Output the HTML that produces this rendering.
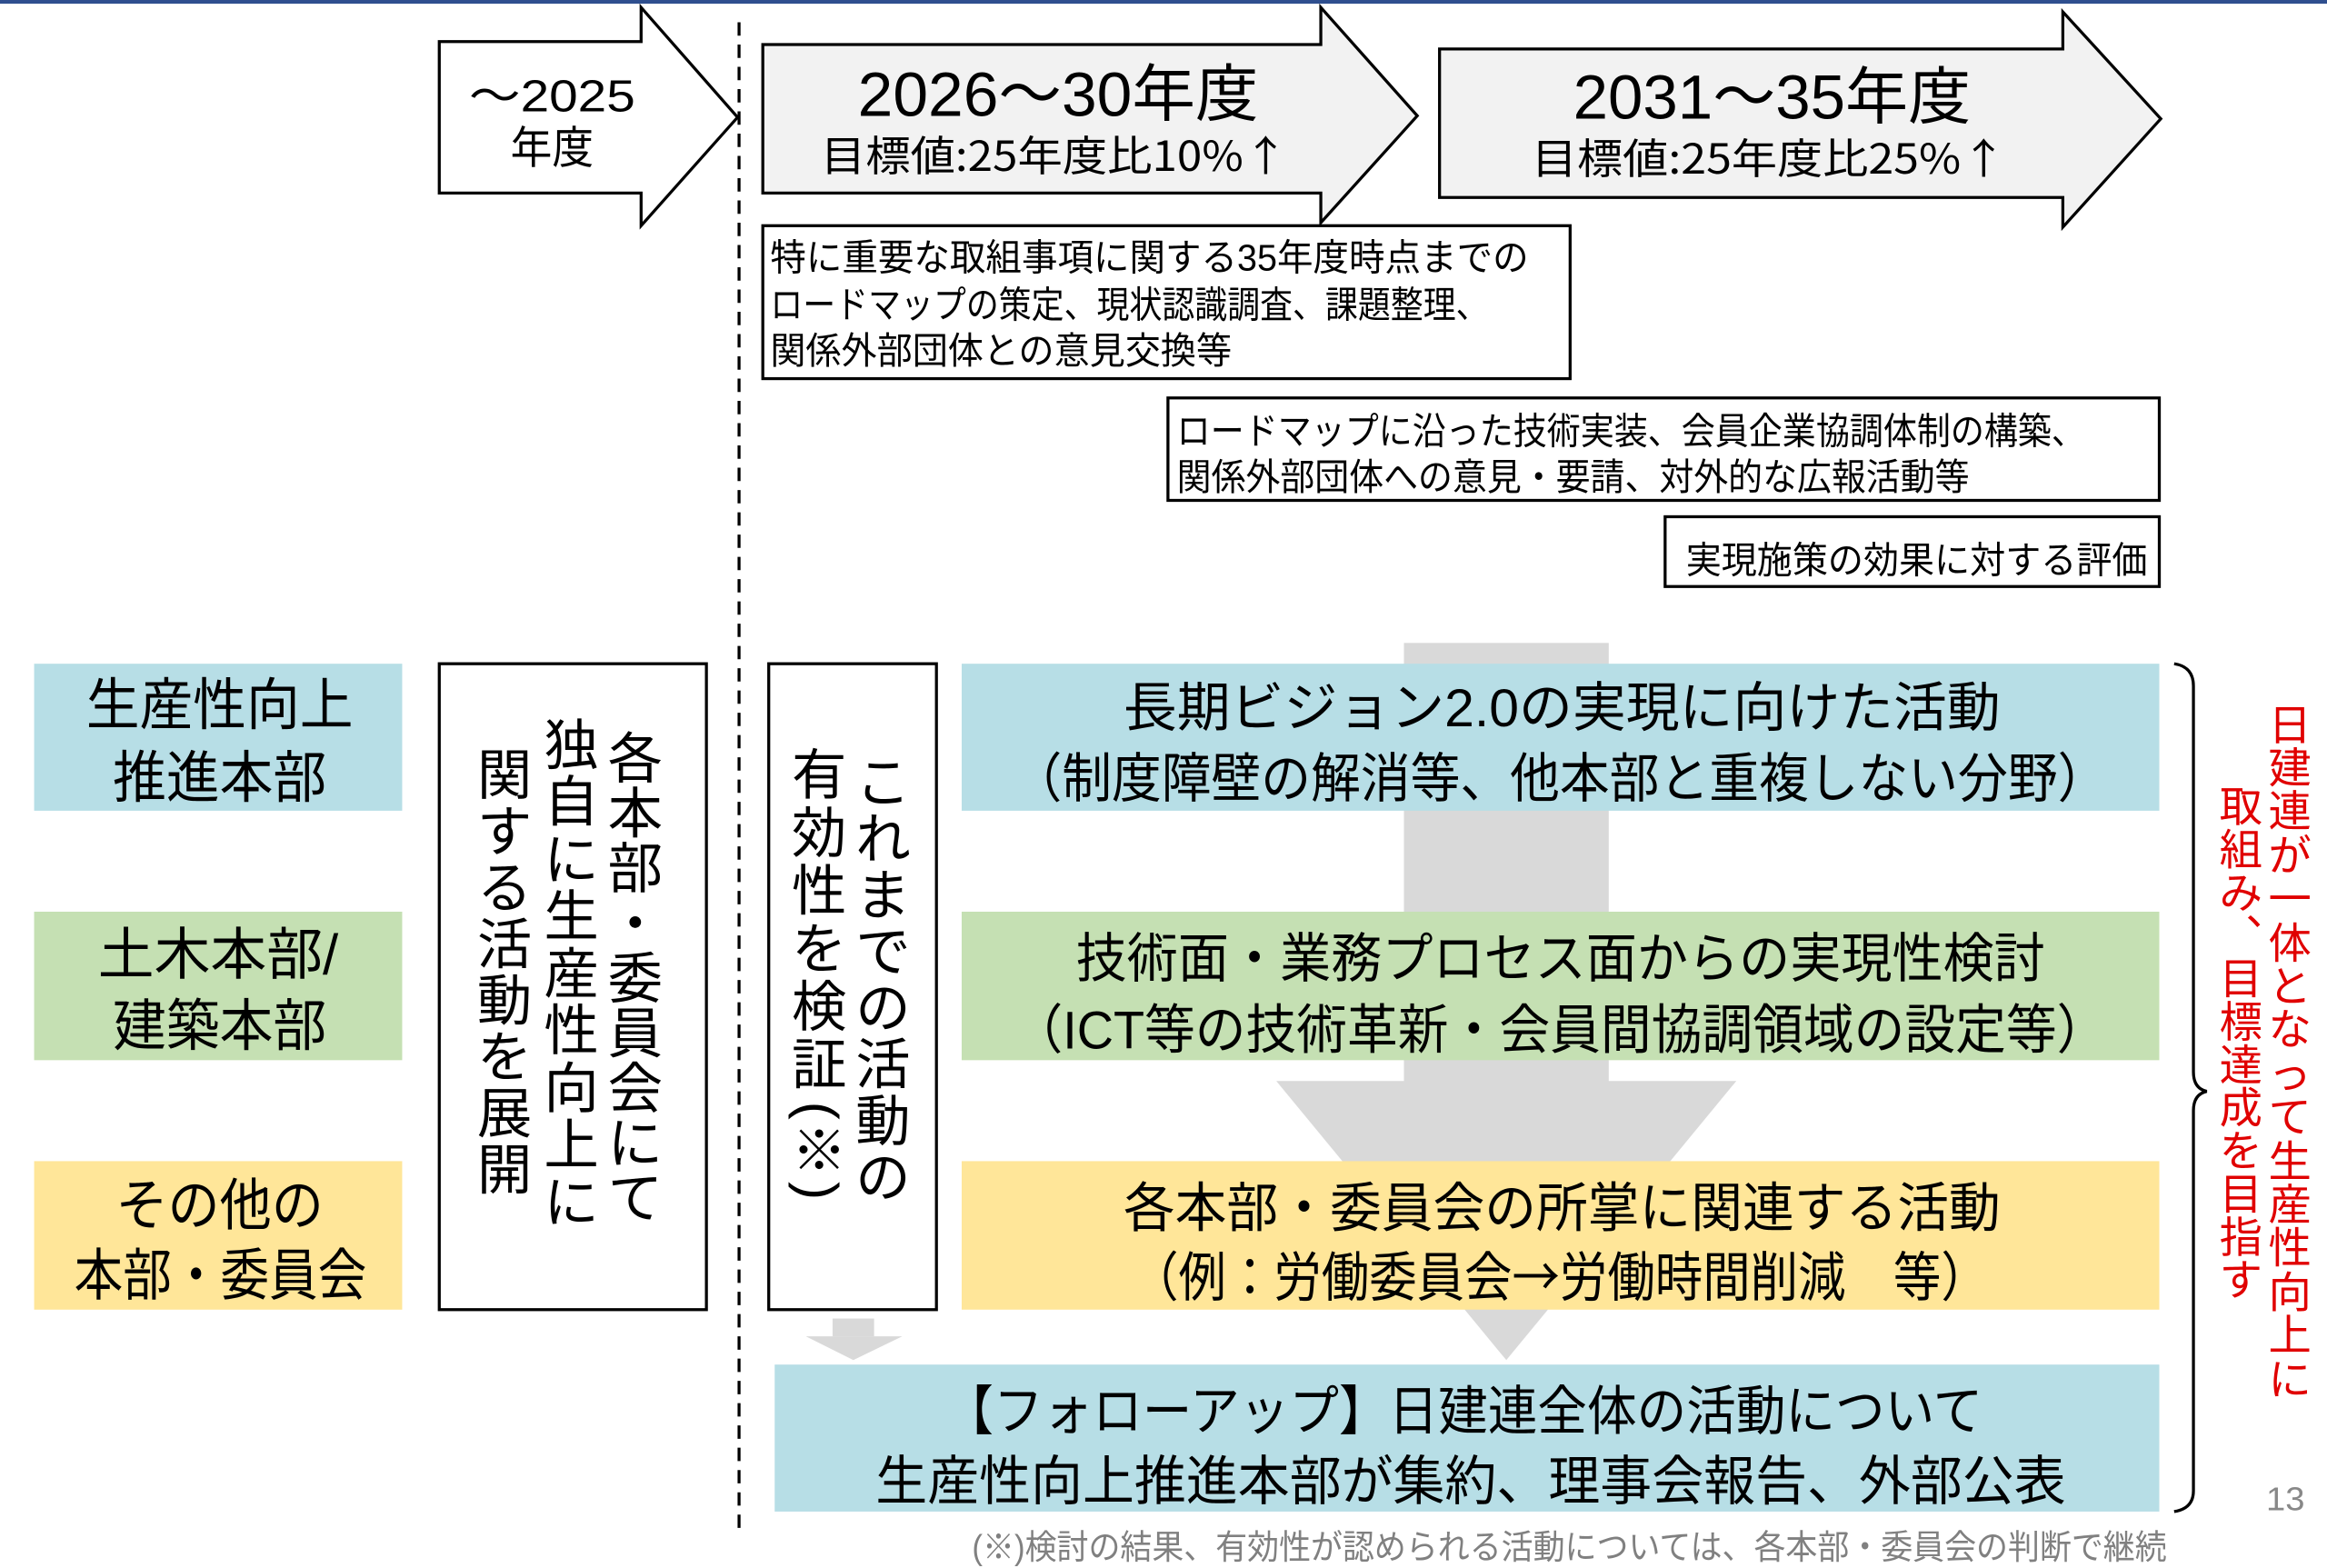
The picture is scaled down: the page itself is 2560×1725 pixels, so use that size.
<!DOCTYPE html>
<html><head><meta charset="utf-8"><style>
html,body{margin:0;padding:0;background:#fff;}
svg{display:block;}
text{font-family:"Liberation Sans","Noto Sans CJK JP",sans-serif;fill:#000;}
.v{text-anchor:middle;dominant-baseline:central;font-size:37px;}
.r{text-anchor:middle;dominant-baseline:central;font-size:29px;fill:#e00000;}
</style></head><body>
<svg width="2560" height="1725" viewBox="0 0 1568 1056" preserveAspectRatio="none" xmlns="http://www.w3.org/2000/svg">
<rect x="0" y="0" width="1568" height="2.5" fill="#2f4f8f"/>
<path d="M296 28 H432 V5 L497 79 L432 152 V130 H296 Z" fill="#fff" stroke="#000" stroke-width="2"/>
<text x="372" y="75" font-size="30" text-anchor="middle" textLength="112" lengthAdjust="spacingAndGlyphs">～2025</text>
<text x="372" y="110" font-size="30" text-anchor="middle" textLength="56" lengthAdjust="spacingAndGlyphs">年度</text>
<path d="M514 30 H890 V5 L955 78 L890 150 V130 H514 Z" fill="#f2f2f2" stroke="#000" stroke-width="2"/>
<text x="578" y="78" font-size="42" textLength="270" lengthAdjust="spacingAndGlyphs">2026～30年度</text>
<text x="553" y="115" font-size="28" textLength="315" lengthAdjust="spacingAndGlyphs" style="font-family:'Noto Sans CJK JP',sans-serif">目標値:25年度比10%↑</text>
<path d="M970 33 H1390 V8 L1456 80 L1390 153 V133 H970 Z" fill="#f2f2f2" stroke="#000" stroke-width="2"/>
<text x="1060" y="80" font-size="42" textLength="268" lengthAdjust="spacingAndGlyphs">2031～35年度</text>
<text x="1032" y="117" font-size="28" textLength="320" lengthAdjust="spacingAndGlyphs" style="font-family:'Noto Sans CJK JP',sans-serif">目標値:25年度比25%↑</text>
<line x1="498" y1="15" x2="498" y2="1035" stroke="#000" stroke-width="2" stroke-dasharray="9,6"/>
<rect x="514" y="152" width="544" height="103" fill="#fff" stroke="#000" stroke-width="2"/>
<text x="519" y="182" font-size="25" textLength="511" lengthAdjust="spacingAndGlyphs">特に重要な取組事項に関する35年度時点までの</text>
<text x="519" y="214" font-size="25" textLength="484" lengthAdjust="spacingAndGlyphs">ロードマップの策定、現状認識調査、課題整理、</text>
<text x="519" y="245" font-size="25" textLength="311" lengthAdjust="spacingAndGlyphs">関係外部団体との意見交換等</text>
<rect x="787" y="268" width="668" height="69" fill="#fff" stroke="#000" stroke-width="2"/>
<text x="793" y="299" font-size="25" textLength="612" lengthAdjust="spacingAndGlyphs">ロードマップに沿った技術実装、会員企業協調体制の構築、</text>
<text x="793" y="330" font-size="25" textLength="534" lengthAdjust="spacingAndGlyphs">関係外部団体への意見・要請、対外的な広報活動等</text>
<rect x="1122" y="348" width="333" height="47" fill="#fff" stroke="#000" stroke-width="2"/>
<text x="1136" y="386" font-size="25" textLength="311" lengthAdjust="spacingAndGlyphs">実現施策の効果に対する評価</text>
<rect x="946" y="433" width="138" height="297" fill="#d9d9d9"/>
<polygon points="860,728 1170,728 1015,916" fill="#d9d9d9"/>
<rect x="561" y="888" width="28" height="12" fill="#d9d9d9"/>
<polygon points="543,900 608,900 575,916" fill="#d9d9d9"/>
<rect x="23" y="447" width="248" height="99" fill="#b7dee6"/>
<text x="58" y="488" font-size="38" textLength="180" lengthAdjust="spacingAndGlyphs">生産性向上</text>
<text x="76" y="537" font-size="38" textLength="144" lengthAdjust="spacingAndGlyphs">推進本部</text>
<rect x="23" y="614" width="248" height="100" fill="#c5e0b3"/>
<text x="66" y="656" font-size="38" textLength="162" lengthAdjust="spacingAndGlyphs">土木本部/</text>
<text x="76" y="704" font-size="38" textLength="144" lengthAdjust="spacingAndGlyphs">建築本部</text>
<rect x="23" y="782" width="248" height="100" fill="#ffe699"/>
<text x="78" y="825" font-size="38" textLength="140" lengthAdjust="spacingAndGlyphs">その他の</text>
<text x="50" y="872" font-size="38" textLength="197" lengthAdjust="spacingAndGlyphs">本部・委員会</text>
<rect x="296" y="447" width="180" height="435" fill="#fff" stroke="#000" stroke-width="2"/>
<text class="v" x="428" y="511">各</text><text class="v" x="428" y="548">本</text><text class="v" x="428" y="585">部</text><text class="v" x="428" y="622">・</text><text class="v" x="428" y="659">委</text><text class="v" x="428" y="696">員</text><text class="v" x="428" y="733">会</text><text class="v" x="428" y="770">に</text><text class="v" x="428" y="807">て</text>
<text class="v" x="385" y="502">独</text><text class="v" x="385" y="540">自</text><text class="v" x="385" y="579">に</text><text class="v" x="385" y="617">生</text><text class="v" x="385" y="656">産</text><text class="v" x="385" y="694">性</text><text class="v" x="385" y="733">向</text><text class="v" x="385" y="771">上</text><text class="v" x="385" y="810">に</text>
<text class="v" x="340" y="522">関</text><text class="v" x="340" y="560">す</text><text class="v" x="340" y="598">る</text><text class="v" x="340" y="636">活</text><text class="v" x="340" y="674">動</text><text class="v" x="340" y="712">を</text><text class="v" x="340" y="750">展</text><text class="v" x="340" y="788">開</text>
<rect x="518" y="447" width="113" height="435" fill="#fff" stroke="#000" stroke-width="2"/>
<text class="v" x="595" y="527">こ</text><text class="v" x="595" y="565">れ</text><text class="v" x="595" y="603">ま</text><text class="v" x="595" y="641">で</text><text class="v" x="595" y="679">の</text><text class="v" x="595" y="717">活</text><text class="v" x="595" y="755">動</text><text class="v" x="595" y="793">の</text>
<text class="v" x="552" y="522">有</text><text class="v" x="552" y="561">効</text><text class="v" x="552" y="600">性</text><text class="v" x="552" y="639">を</text><text class="v" x="552" y="678">検</text><text class="v" x="552" y="717">証</text>
<text class="v" x="552" y="748" transform="rotate(90 552 748)">(</text><text class="v" x="552" y="775">※</text><text class="v" x="552" y="802" transform="rotate(90 552 802)">)</text>
<rect x="648" y="447" width="807" height="99" fill="#b7dee6"/>
<text x="757" y="489" font-size="36" textLength="591" lengthAdjust="spacingAndGlyphs">長期ビジョン2.0の実現に向けた活動</text>
<text x="682" y="537" font-size="36" textLength="738" lengthAdjust="spacingAndGlyphs">（制度障壁の解消等、他本部と重複しない分野）</text>
<rect x="648" y="614" width="807" height="100" fill="#c5e0b3"/>
<text x="725" y="658" font-size="36" textLength="653" lengthAdjust="spacingAndGlyphs">技術面・業務プロセス面からの実現性検討</text>
<text x="682" y="706" font-size="36" textLength="738" lengthAdjust="spacingAndGlyphs">（ICT等の技術革新・会員間協調領域の設定等）</text>
<rect x="648" y="782" width="807" height="100" fill="#ffe699"/>
<text x="757" y="826" font-size="36" textLength="591" lengthAdjust="spacingAndGlyphs">各本部・委員会の所掌に関連する活動</text>
<text x="762" y="873" font-size="36" textLength="578" lengthAdjust="spacingAndGlyphs" style="font-family:'Noto Sans CJK JP',sans-serif">（例：労働委員会→労働時間削減　等）</text>
<rect x="522" y="919" width="933" height="99" fill="#b7dee6"/>
<text x="636" y="963" font-size="36" textLength="700" lengthAdjust="spacingAndGlyphs">【フォローアップ】日建連全体の活動について</text>
<text x="590" y="1010" font-size="36" textLength="802" lengthAdjust="spacingAndGlyphs">生産性向上推進本部が集約、理事会報告、外部公表</text>
<path d="M1465 447 Q1478 449 1478 462 V722 Q1478 733 1487 735 Q1478 737 1478 748 V1004 Q1478 1016 1465 1018" fill="none" stroke="#000" stroke-width="2"/>
<text class="r" x="1543" y="489">日</text><text class="r" x="1543" y="518">建</text><text class="r" x="1543" y="547">連</text><text class="r" x="1543" y="577">が</text><text class="r" x="1543" y="606">一</text><text class="r" x="1543" y="636">体</text><text class="r" x="1543" y="665">と</text><text class="r" x="1543" y="694">な</text><text class="r" x="1543" y="724">っ</text><text class="r" x="1543" y="753">て</text><text class="r" x="1543" y="783">生</text><text class="r" x="1543" y="812">産</text><text class="r" x="1543" y="841">性</text><text class="r" x="1543" y="871">向</text><text class="r" x="1543" y="900">上</text><text class="r" x="1543" y="930">に</text>
<text class="r" x="1510" y="544">取</text><text class="r" x="1510" y="573">組</text><text class="r" x="1510" y="602">み</text><text class="r" x="1510" y="631">︑</text><text class="r" x="1510" y="660">目</text><text class="r" x="1510" y="689">標</text><text class="r" x="1510" y="718">達</text><text class="r" x="1510" y="747">成</text><text class="r" x="1510" y="776">を</text><text class="r" x="1510" y="805">目</text><text class="r" x="1510" y="834">指</text><text class="r" x="1510" y="863">す</text>
<text x="1527" y="1017" font-size="22" style="fill:#888" textLength="26" lengthAdjust="spacingAndGlyphs">13</text>
<text x="655" y="1050" font-size="23" style="fill:#808080" textLength="805" lengthAdjust="spacingAndGlyphs">(※)検討の結果、有効性が認められる活動については、各本部・委員会の判断で継続</text>
</svg>
</body></html>
